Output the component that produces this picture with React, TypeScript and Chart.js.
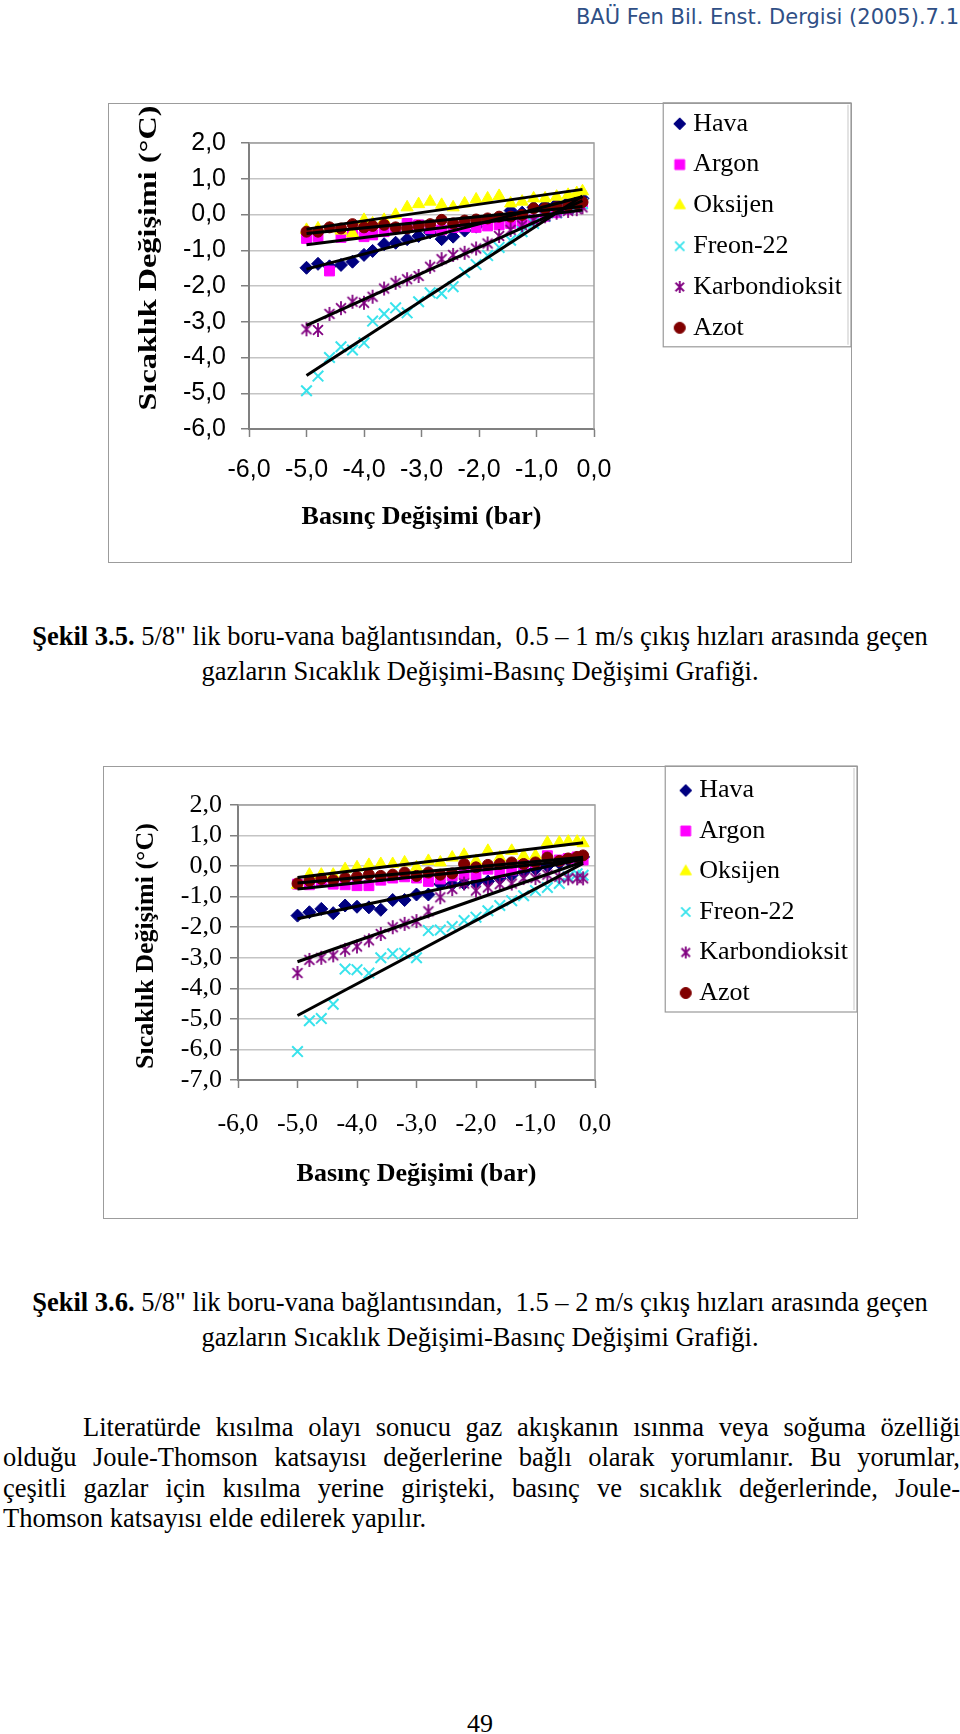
import React, { useEffect, useRef } from 'react';
import { Chart, registerables } from 'chart.js';
import { drawPoint } from 'chart.js/helpers';

Chart.register(...registerables);

const SERIF = '"Liberation Serif", "Times New Roman", serif';
const SANS = '"Liberation Sans", Arial, sans-serif';

const SERIES_NAMES = ['Hava', 'Argon', 'Oksijen', 'Freon-22', 'Karbondioksit', 'Azot'];
const POINT_STYLES = ['rectRot', 'rect', 'triangle', 'crossRot', 'asterisk', 'circle'];
const COLORS = ['#000080', '#FF00FF', '#FFFF00', '#38E3EC', '#800080', '#800000'];
const RADII = [6.5, 7, 7, 7.5, 7, 5.5];
const LEGEND_RADII = [6, 7, 6.5, 6.5, 6, 5.5];
const X_TITLE = 'Basınç Değişimi (bar)';
const Y_TITLE = 'Sıcaklık Değişimi (°C)';
const X_TICKS = [-6, -5, -4, -3, -2, -1, 0];

// ---- Şekil 3.5 (0.5 – 1 m/s) ----
const c1YTicks = [-6, -5, -4, -3, -2, -1, 0, 1, 2];
const c1X = [-5.0, -4.8, -4.6, -4.4, -4.2, -4.0, -3.85, -3.65, -3.45, -3.25, -3.05, -2.85, -2.65, -2.45, -2.25, -2.05, -1.85, -1.65, -1.45, -1.25, -1.05, -0.85, -0.65, -0.45, -0.3, -0.2];
const c1Hava = [-1.49, -1.38, -1.45, -1.41, -1.32, -1.13, -1.02, -0.83, -0.79, -0.69, -0.6, -0.5, -0.69, -0.62, -0.45, -0.34, -0.14, -0.1, 0.11, 0.05, 0.2, 0.25, 0.3, 0.35, 0.4, 0.45];
const c1Argon = [-0.67, -0.62, -1.58, -0.64, -0.53, -0.62, -0.57, -0.48, -0.39, -0.25, -0.29, -0.39, -0.43, -0.36, -0.34, -0.36, -0.32, -0.29, -0.25, -0.2, -0.15, -0.05, 0.05, 0.15, 0.25, 0.3];
const c1Oksijen = [-0.43, -0.39, -0.39, -0.45, -0.53, -0.15, -0.25, -0.15, -0.01, 0.2, 0.29, 0.36, 0.27, 0.2, 0.31, 0.42, 0.45, 0.52, 0.31, 0.36, 0.45, 0.45, 0.5, 0.55, 0.6, 0.65];
const c1Freon = [-4.93, -4.52, -4.0, -3.7, -3.79, -3.59, -2.98, -2.78, -2.61, -2.75, -2.44, -2.19, -2.21, -2.02, -1.62, -1.4, -1.15, -0.92, -0.72, -0.48, -0.25, -0.05, 0.05, 0.15, 0.22, 0.3];
const c1CO2 = [-3.21, -3.23, -2.78, -2.62, -2.44, -2.47, -2.3, -2.07, -1.91, -1.81, -1.72, -1.46, -1.25, -1.13, -1.07, -0.95, -0.81, -0.6, -0.43, -0.3, -0.15, -0.05, 0.05, 0.1, 0.15, 0.2];
const c1Azot = [-0.48, -0.48, -0.36, -0.39, -0.27, -0.36, -0.32, -0.29, -0.36, -0.39, -0.32, -0.27, -0.15, -0.25, -0.17, -0.14, -0.11, -0.06, -0.06, -0.01, 0.17, 0.17, 0.2, 0.25, 0.3, 0.35];

// ---- Şekil 3.6 (1.5 – 2 m/s) ----
const c2YTicks = [-7, -6, -5, -4, -3, -2, -1, 0, 1, 2];
const c2X = [-5.0, -4.8, -4.6, -4.4, -4.2, -4.0, -3.8, -3.6, -3.4, -3.2, -3.0, -2.8, -2.6, -2.4, -2.2, -2.0, -1.8, -1.6, -1.4, -1.2, -1.0, -0.8, -0.6, -0.45, -0.3, -0.2];
const c2Hava = [-1.62, -1.51, -1.4, -1.54, -1.29, -1.33, -1.35, -1.43, -1.11, -1.11, -0.93, -0.93, -0.59, -0.59, -0.57, -0.53, -0.5, -0.4, -0.3, -0.2, -0.1, 0.0, 0.1, 0.2, 0.25, 0.3];
const c2Argon = [-0.59, -0.61, -0.5, -0.59, -0.61, -0.64, -0.64, -0.46, -0.39, -0.35, -0.39, -0.5, -0.42, -0.32, -0.26, -0.28, -0.1, -0.21, -0.13, 0.04, 0.12, 0.34, 0.2, 0.25, 0.3, 0.2];
const c2Oksijen = [-0.61, -0.28, -0.28, -0.28, -0.1, -0.04, 0.04, 0.07, 0.07, 0.12, -0.04, 0.17, 0.12, 0.28, 0.37, 0.17, 0.5, 0.28, 0.5, 0.34, 0.34, 0.77, 0.77, 0.8, 0.8, 0.75];
const c2Freon = [-6.07, -5.06, -4.99, -4.52, -3.37, -3.39, -3.5, -3.0, -2.87, -2.85, -3.0, -2.11, -2.09, -1.98, -1.78, -1.67, -1.46, -1.29, -1.13, -0.97, -0.8, -0.7, -0.57, -0.35, -0.25, -0.3];
const c2CO2 = [-3.5, -3.07, -3.0, -2.92, -2.74, -2.63, -2.43, -2.22, -2.0, -1.89, -1.8, -1.48, -1.02, -0.75, -0.57, -0.8, -0.7, -0.59, -0.57, -0.39, -0.39, -0.28, -0.35, -0.4, -0.4, -0.4];
const c2Azot = [-0.57, -0.48, -0.42, -0.46, -0.39, -0.35, -0.28, -0.32, -0.28, -0.21, -0.32, -0.21, -0.28, -0.24, 0.07, -0.04, 0.04, 0.07, 0.12, 0.07, 0.12, 0.28, 0.17, 0.25, 0.3, 0.35];

const GRID = '#c4c4c4';
const AXIS = '#808080';
const LEGEND_MARKER_DX = 4;

function linFit(xs: number[], ys: number[]) {
  const n = xs.length;
  let sx = 0, sy = 0, sxx = 0, sxy = 0;
  for (let i = 0; i < n; i++) {
    sx += xs[i]; sy += ys[i]; sxx += xs[i] * xs[i]; sxy += xs[i] * ys[i];
  }
  const m = (n * sxy - sx * sy) / (n * sxx - sx * sx);
  const b = (sy - m * sx) / n;
  return { m, b };
}

const fmt = (v: any) => {
  const n = Number(v);
  return (Math.abs(n) < 1e-9 ? 0 : n).toFixed(1).replace('.', ',');
};

// marker drawn into a small canvas (used for the Excel-like asterisk and for legend
// markers that sit a little to the right of their slot)
function markerCanvas(kind: string, color: string, r: number, dx: number) {
  const halfW = Math.ceil(r + Math.abs(dx) + 3);
  const halfH = Math.ceil(r + 3);
  const c = document.createElement('canvas');
  c.width = halfW * 2;
  c.height = halfH * 2;
  const ctx = c.getContext('2d') as CanvasRenderingContext2D;
  const cx = halfW + dx;
  const cy = halfH;
  ctx.fillStyle = color;
  ctx.strokeStyle = color;
  if (kind === 'asterisk') {
    ctx.lineWidth = 1.8;
    const d = r * Math.SQRT1_2;
    ctx.beginPath();
    ctx.moveTo(cx, cy - r); ctx.lineTo(cx, cy + r);
    ctx.moveTo(cx - d, cy - d); ctx.lineTo(cx + d, cy + d);
    ctx.moveTo(cx + d, cy - d); ctx.lineTo(cx - d, cy + d);
    ctx.stroke();
  } else {
    ctx.lineWidth = kind === 'crossRot' ? 1.8 : 1;
    drawPoint(ctx, { pointStyle: kind, radius: r, borderWidth: 1, rotation: 0 } as any, cx, cy);
  }
  return c;
}

type Props = {
  xs: number[];
  ys: number[][];
  yTicks: number[];
  left: number; top: number; width: number; height: number;
  plot: { left: number; top: number; right: number; bottom: number };
  tickFont: string; tickSize: number; xTickPad: number; yTickPad: number;
  xTitlePad: number; legendPad: number;
  yTitleDX: number; yTitleDY: number; yTitleStretch: number;
  frame: { above: number; below: number; leftOff: number };
};

function ScatterChart(p: Props) {
  const ref = useRef<HTMLCanvasElement | null>(null);
  useEffect(() => {
    const cv = ref.current;
    if (!cv) return;
    const legendImgs = POINT_STYLES.map((s, i) => markerCanvas(s, COLORS[i], LEGEND_RADII[i], LEGEND_MARKER_DX));
    const datasets: any[] = [];
    p.ys.forEach((ys, i) => {
      const ps = POINT_STYLES[i] === 'asterisk' ? markerCanvas('asterisk', COLORS[i], RADII[i], 0) : POINT_STYLES[i];
      datasets.push({
        label: SERIES_NAMES[i],
        data: p.xs.map((x, k) => ({ x, y: ys[k] })),
        pointStyle: ps,
        pointRadius: RADII[i],
        pointHoverRadius: RADII[i],
        backgroundColor: COLORS[i],
        borderColor: COLORS[i],
        borderWidth: i === 3 ? 2 : 1,
        order: 10 - i,
      });
    });
    p.ys.forEach((ys) => {
      const { m, b } = linFit(p.xs, ys);
      const x0 = Math.min(...p.xs);
      const x1 = Math.max(...p.xs);
      datasets.push({
        label: '',
        trend: true,
        data: [{ x: x0, y: m * x0 + b }, { x: x1, y: m * x1 + b }],
        showLine: true,
        pointRadius: 0,
        borderColor: '#000',
        backgroundColor: '#000',
        borderWidth: 3,
        order: 0,
      });
    });

    const plotFrame = {
      id: 'plotFrame',
      beforeDatasetsDraw(chart: any) {
        const { ctx, chartArea: a } = chart;
        ctx.save();
        ctx.strokeStyle = '#a0a0a0';
        ctx.lineWidth = 1.5;
        ctx.beginPath();
        ctx.moveTo(a.left, a.top);
        ctx.lineTo(a.right, a.top);
        ctx.lineTo(a.right, a.bottom);
        ctx.stroke();
        ctx.restore();
      },
    };
    const legendFrame = {
      id: 'legendFrame',
      afterDraw(chart: any) {
        const hb = chart.legend && chart.legend.legendHitBoxes;
        if (!hb || !hb.length) return;
        const f = hb[0], l = hb[hb.length - 1];
        const x0 = f.left - p.frame.leftOff;
        const y0 = f.top + f.height / 2 - p.frame.above;
        const y1 = l.top + l.height / 2 + p.frame.below;
        const x1 = chart.width - 1;
        const ctx = chart.ctx;
        ctx.save();
        ctx.strokeStyle = '#9a9a9a';
        ctx.lineWidth = 1.2;
        ctx.strokeRect(x0, y0, x1 - x0, y1 - y0);
        ctx.strokeStyle = '#d0d0d0';
        ctx.beginPath();
        ctx.moveTo(x1 - 3, y0 + 2);
        ctx.lineTo(x1 - 3, y1 - 2);
        ctx.stroke();
        ctx.restore();
      },
    };
    const yTitle = {
      id: 'yTitle',
      afterDraw(chart: any) {
        const { ctx, chartArea: a } = chart;
        ctx.save();
        ctx.translate(a.left - p.yTitleDX, (a.top + a.bottom) / 2 + p.yTitleDY);
        ctx.rotate(-Math.PI / 2);
        ctx.scale(p.yTitleStretch, 1);
        ctx.font = 'bold 26px ' + SERIF;
        ctx.fillStyle = '#000';
        ctx.textAlign = 'center';
        ctx.textBaseline = 'middle';
        ctx.fillText(Y_TITLE, 0, 0);
        ctx.restore();
      },
    };

    const tickFont = { family: p.tickFont, size: p.tickSize };
    const defaultLabels = (Chart.defaults as any).plugins.legend.labels.generateLabels;
    const chart = new Chart(cv, {
      type: 'scatter',
      data: { datasets },
      plugins: [plotFrame, legendFrame, yTitle],
      options: {
        animation: false,
        responsive: false,
        maintainAspectRatio: false,
        events: [],
        layout: { padding: 0 },
        plugins: {
          tooltip: { enabled: false },
          title: { display: false },
          legend: {
            position: 'right',
            align: 'start',
            labels: {
              usePointStyle: true,
              boxWidth: 9,
              boxHeight: 9,
              padding: p.legendPad,
              color: '#000',
              font: { family: SERIF, size: 26 },
              generateLabels: (c: any) =>
                defaultLabels(c).map((it: any) =>
                  it.datasetIndex < legendImgs.length ? { ...it, pointStyle: legendImgs[it.datasetIndex] } : it),
              filter: (item: any, data: any) => !data.datasets[item.datasetIndex].trend,
              sort: (a: any, b: any) => a.datasetIndex - b.datasetIndex,
            },
          },
        },
        scales: {
          x: {
            type: 'linear',
            position: 'bottom',
            min: X_TICKS[0],
            max: X_TICKS[X_TICKS.length - 1],
            afterBuildTicks: (s: any) => { s.ticks = X_TICKS.map((v) => ({ value: v })); },
            ticks: { callback: fmt, color: '#000', font: tickFont, padding: p.xTickPad, maxRotation: 0, autoSkip: false },
            grid: { drawOnChartArea: false, drawTicks: true, tickLength: 8, tickColor: AXIS, tickWidth: 1.5 },
            border: { display: true, color: AXIS, width: 2 },
            title: {
              display: true, text: X_TITLE, color: '#000',
              font: { family: SERIF, size: 26, weight: 'bold' },
              padding: { top: 0, bottom: p.xTitlePad },
            },
            afterFit: (s: any) => { s.height = p.height - p.plot.bottom; },
          },
          y: {
            type: 'linear',
            position: 'left',
            min: p.yTicks[0],
            max: p.yTicks[p.yTicks.length - 1],
            afterBuildTicks: (s: any) => { s.ticks = p.yTicks.map((v) => ({ value: v })); },
            ticks: { callback: fmt, color: '#000', font: tickFont, padding: p.yTickPad, autoSkip: false },
            grid: { color: GRID, lineWidth: 1.5, drawTicks: true, tickLength: 8, tickColor: AXIS, tickWidth: 1.5 },
            border: { display: true, color: AXIS, width: 2 },
            afterFit: (s: any) => { s.width = p.plot.left; },
          },
          topPad: {
            type: 'linear', position: 'top', display: true,
            ticks: { display: false }, grid: { display: false }, border: { display: false },
            afterFit: (s: any) => { s.height = p.plot.top; },
          },
          rightPad: {
            type: 'linear', position: 'right', display: true,
            ticks: { display: false }, grid: { display: false }, border: { display: false },
            afterFit: (s: any) => {
              const lw = s.chart.legend ? s.chart.legend.width : 0;
              s.width = Math.max(0, p.width - p.plot.right - lw);
            },
          },
        } as any,
      } as any,
    });
    return () => chart.destroy();
  }, []);
  return (
    <canvas
      ref={ref}
      width={p.width}
      height={p.height}
      style={{ position: 'absolute', left: p.left, top: p.top, width: p.width, height: p.height }}
    />
  );
}

const box = (l: number, t: number, r: number, b: number): React.CSSProperties => ({
  position: 'absolute', left: l, top: t, width: r - l, height: b - t,
  border: '1px solid #9c9c9c', boxSizing: 'border-box',
});

const bodyLine = (top: number, left: number, last: boolean): React.CSSProperties => ({
  position: 'absolute', left, top, width: 960 - left, fontFamily: SERIF, fontSize: 26.5,
  lineHeight: '30.5px', textAlign: last ? 'left' : 'justify', textAlignLast: last ? 'left' : 'justify',
  color: '#000',
} as any);

const caption = (top: number): React.CSSProperties => ({
  position: 'absolute', left: 0, width: 960, top, textAlign: 'center',
  fontFamily: SERIF, fontSize: 26.5, lineHeight: '34.5px', color: '#000', whiteSpace: 'nowrap',
});

// canvases extend to the left of their visible boxes (off-page) so the
// legend is not width-limited by the layout engine
const EXT = 1260;

export default function App() {
  return (
    <div style={{ position: 'absolute', left: 0, top: 0, width: 960, height: 1734, overflow: 'hidden', background: '#fff' }}>
      <div style={{ position: 'absolute', right: 1, top: 4, fontFamily: '"DejaVu Sans", sans-serif', fontSize: 21, lineHeight: '26px', color: '#2f4f86' }}>
        BAÜ Fen Bil. Enst. Dergisi (2005).7.1
      </div>

      <div style={box(108, 103, 852, 563)} />
      <ScatterChart
        xs={c1X}
        ys={[c1Hava, c1Argon, c1Oksijen, c1Freon, c1CO2, c1Azot]}
        yTicks={c1YTicks}
        left={852 - EXT} top={96} width={EXT} height={467}
        plot={{ left: 141 + (EXT - 744), top: 47, right: 486 + (EXT - 744), bottom: 333 }}
        tickFont={SANS} tickSize={25} xTickPad={18} yTickPad={15}
        xTitlePad={30} legendPad={14.8}
        yTitleDX={100} yTitleDY={-28} yTitleStretch={1.24}
        frame={{ above: 21, below: 19, leftOff: 8 }}
      />

      <div style={caption(619)}>
        <div><b>Şekil 3.5.</b> 5/8" lik boru-vana bağlantısından,&nbsp; 0.5 – 1 m/s çıkış hızları arasında geçen</div>
        <div>gazların Sıcaklık Değişimi-Basınç Değişimi Grafiği.</div>
      </div>

      <div style={box(103, 766, 858, 1219)} />
      <ScatterChart
        xs={c2X}
        ys={[c2Hava, c2Argon, c2Oksijen, c2Freon, c2CO2, c2Azot]}
        yTicks={c2YTicks}
        left={858 - EXT} top={763} width={EXT} height={456}
        plot={{ left: 135 + (EXT - 755), top: 42, right: 492 + (EXT - 755), bottom: 317 }}
        tickFont={SERIF} tickSize={26} xTickPad={21} yTickPad={8}
        xTitlePad={29} legendPad={14.5}
        yTitleDX={92} yTitleDY={3.5} yTitleStretch={1}
        frame={{ above: 24.5, below: 19, leftOff: 12 }}
      />

      <div style={caption(1285)}>
        <div><b>Şekil 3.6.</b> 5/8" lik boru-vana bağlantısından,&nbsp; 1.5 – 2 m/s çıkış hızları arasında geçen</div>
        <div>gazların Sıcaklık Değişimi-Basınç Değişimi Grafiği.</div>
      </div>

      <div style={bodyLine(1411.5, 83, false)}>Literatürde kısılma olayı sonucu gaz akışkanın ısınma veya soğuma özelliği</div>
      <div style={bodyLine(1442, 3, false)}>olduğu Joule-Thomson katsayısı değerlerine bağlı olarak yorumlanır. Bu yorumlar,</div>
      <div style={bodyLine(1472.5, 3, false)}>çeşitli gazlar için kısılma yerine girişteki, basınç ve sıcaklık değerlerinde, Joule-</div>
      <div style={bodyLine(1503, 3, true)}>Thomson katsayısı elde edilerek yapılır.</div>

      <div style={{ position: 'absolute', left: 0, width: 960, top: 1710, textAlign: 'center', fontFamily: SERIF, fontSize: 26, lineHeight: '28px' }}>49</div>
    </div>
  );
}
